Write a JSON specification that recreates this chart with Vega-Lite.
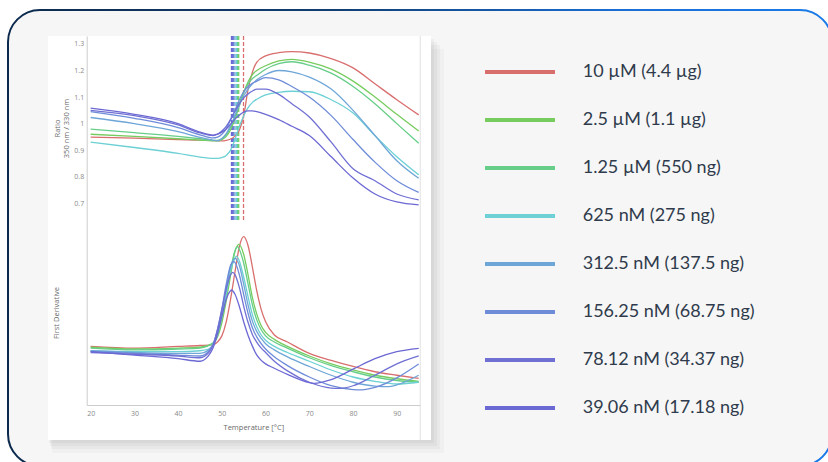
{
  "$schema": "https://vega.github.io/schema/vega-lite/v6.json",
  "width": 824,
  "height": 456,
  "autosize": {"type": "none"},
  "padding": {"left": 8, "top": 10, "right": -4, "bottom": -4},
  "background": "#ffffff",
  "config": {
    "view": {
      "fill": "#f6f6f6",
      "stroke": {"gradient": "linear", "x1": 0, "y1": 0, "x2": 1, "y2": 0, "stops": [{"offset": 0, "color": "#0c2a4d"}, {"offset": 0.4, "color": "#113f74"}, {"offset": 0.75, "color": "#1a6fd6"}, {"offset": 1, "color": "#1a7be8"}]},
      "strokeWidth": 2,
      "cornerRadius": 32
    },
    "axis": {"grid": false, "ticks": false, "zindex": 1, "domainColor": "#cccccc", "labelFont": "Open Sans", "titleFont": "Open Sans", "labelColor": "#8a8a8a", "titleColor": "#6a6a6a", "labelFontSize": 7, "titleFontSize": 7.5, "titleFontWeight": "normal"},
    "legend": {"zindex": 1}
  },
  "datasets": {
    "tm": [
      {"c": "10 µM (4.4 µg)", "tm": 54.95},
      {"c": "2.5 µM (1.1 µg)", "tm": 53.85},
      {"c": "1.25 µM (550 ng)", "tm": 53.6},
      {"c": "625 nM (275 ng)", "tm": 53.35},
      {"c": "312.5 nM (137.5 ng)", "tm": 53.0},
      {"c": "156.25 nM (68.75 ng)", "tm": 52.7},
      {"c": "78.12 nM (34.37 ng)", "tm": 52.45},
      {"c": "39.06 nM (17.18 ng)", "tm": 52.2}
    ],
    "ratio": [
      {"c": "10 µM (4.4 µg)", "t": 20, "r": 0.949}, {"c": "10 µM (4.4 µg)", "t": 30, "r": 0.945}, {"c": "10 µM (4.4 µg)", "t": 40, "r": 0.94}, {"c": "10 µM (4.4 µg)", "t": 45, "r": 0.938}, {"c": "10 µM (4.4 µg)", "t": 48, "r": 0.936}, {"c": "10 µM (4.4 µg)", "t": 50, "r": 0.935}, {"c": "10 µM (4.4 µg)", "t": 51, "r": 0.937}, {"c": "10 µM (4.4 µg)", "t": 52, "r": 0.942}, {"c": "10 µM (4.4 µg)", "t": 53, "r": 0.953}, {"c": "10 µM (4.4 µg)", "t": 54, "r": 0.975}, {"c": "10 µM (4.4 µg)", "t": 55, "r": 1.03}, {"c": "10 µM (4.4 µg)", "t": 56, "r": 1.13}, {"c": "10 µM (4.4 µg)", "t": 57, "r": 1.195}, {"c": "10 µM (4.4 µg)", "t": 58, "r": 1.232}, {"c": "10 µM (4.4 µg)", "t": 60, "r": 1.255}, {"c": "10 µM (4.4 µg)", "t": 63, "r": 1.267}, {"c": "10 µM (4.4 µg)", "t": 66, "r": 1.271}, {"c": "10 µM (4.4 µg)", "t": 70, "r": 1.266}, {"c": "10 µM (4.4 µg)", "t": 75, "r": 1.245}, {"c": "10 µM (4.4 µg)", "t": 80, "r": 1.21}, {"c": "10 µM (4.4 µg)", "t": 85, "r": 1.15}, {"c": "10 µM (4.4 µg)", "t": 90, "r": 1.09}, {"c": "10 µM (4.4 µg)", "t": 95, "r": 1.033},
      {"c": "2.5 µM (1.1 µg)", "t": 20, "r": 0.96}, {"c": "2.5 µM (1.1 µg)", "t": 30, "r": 0.952}, {"c": "2.5 µM (1.1 µg)", "t": 40, "r": 0.943}, {"c": "2.5 µM (1.1 µg)", "t": 45, "r": 0.938}, {"c": "2.5 µM (1.1 µg)", "t": 48, "r": 0.935}, {"c": "2.5 µM (1.1 µg)", "t": 49, "r": 0.935}, {"c": "2.5 µM (1.1 µg)", "t": 50, "r": 0.94}, {"c": "2.5 µM (1.1 µg)", "t": 51, "r": 0.952}, {"c": "2.5 µM (1.1 µg)", "t": 52, "r": 0.977}, {"c": "2.5 µM (1.1 µg)", "t": 53, "r": 1.018}, {"c": "2.5 µM (1.1 µg)", "t": 53.9, "r": 1.062}, {"c": "2.5 µM (1.1 µg)", "t": 55, "r": 1.118}, {"c": "2.5 µM (1.1 µg)", "t": 56, "r": 1.158}, {"c": "2.5 µM (1.1 µg)", "t": 57, "r": 1.185}, {"c": "2.5 µM (1.1 µg)", "t": 58, "r": 1.2}, {"c": "2.5 µM (1.1 µg)", "t": 60, "r": 1.218}, {"c": "2.5 µM (1.1 µg)", "t": 63, "r": 1.236}, {"c": "2.5 µM (1.1 µg)", "t": 66, "r": 1.242}, {"c": "2.5 µM (1.1 µg)", "t": 70, "r": 1.232}, {"c": "2.5 µM (1.1 µg)", "t": 75, "r": 1.205}, {"c": "2.5 µM (1.1 µg)", "t": 80, "r": 1.16}, {"c": "2.5 µM (1.1 µg)", "t": 85, "r": 1.1}, {"c": "2.5 µM (1.1 µg)", "t": 90, "r": 1.035}, {"c": "2.5 µM (1.1 µg)", "t": 95, "r": 0.972},
      {"c": "1.25 µM (550 ng)", "t": 20, "r": 0.979}, {"c": "1.25 µM (550 ng)", "t": 30, "r": 0.966}, {"c": "1.25 µM (550 ng)", "t": 40, "r": 0.952}, {"c": "1.25 µM (550 ng)", "t": 45, "r": 0.943}, {"c": "1.25 µM (550 ng)", "t": 48, "r": 0.937}, {"c": "1.25 µM (550 ng)", "t": 49, "r": 0.937}, {"c": "1.25 µM (550 ng)", "t": 50, "r": 0.943}, {"c": "1.25 µM (550 ng)", "t": 51, "r": 0.958}, {"c": "1.25 µM (550 ng)", "t": 52, "r": 0.986}, {"c": "1.25 µM (550 ng)", "t": 53, "r": 1.028}, {"c": "1.25 µM (550 ng)", "t": 53.6, "r": 1.057}, {"c": "1.25 µM (550 ng)", "t": 54, "r": 1.076}, {"c": "1.25 µM (550 ng)", "t": 55, "r": 1.118}, {"c": "1.25 µM (550 ng)", "t": 56, "r": 1.15}, {"c": "1.25 µM (550 ng)", "t": 57, "r": 1.17}, {"c": "1.25 µM (550 ng)", "t": 58, "r": 1.182}, {"c": "1.25 µM (550 ng)", "t": 60, "r": 1.205}, {"c": "1.25 µM (550 ng)", "t": 63, "r": 1.226}, {"c": "1.25 µM (550 ng)", "t": 66, "r": 1.233}, {"c": "1.25 µM (550 ng)", "t": 70, "r": 1.22}, {"c": "1.25 µM (550 ng)", "t": 75, "r": 1.19}, {"c": "1.25 µM (550 ng)", "t": 80, "r": 1.14}, {"c": "1.25 µM (550 ng)", "t": 85, "r": 1.075}, {"c": "1.25 µM (550 ng)", "t": 90, "r": 1.0}, {"c": "1.25 µM (550 ng)", "t": 95, "r": 0.926},
      {"c": "625 nM (275 ng)", "t": 20, "r": 0.93}, {"c": "625 nM (275 ng)", "t": 30, "r": 0.91}, {"c": "625 nM (275 ng)", "t": 40, "r": 0.888}, {"c": "625 nM (275 ng)", "t": 45, "r": 0.874}, {"c": "625 nM (275 ng)", "t": 48, "r": 0.869}, {"c": "625 nM (275 ng)", "t": 49, "r": 0.869}, {"c": "625 nM (275 ng)", "t": 50, "r": 0.872}, {"c": "625 nM (275 ng)", "t": 51, "r": 0.88}, {"c": "625 nM (275 ng)", "t": 52, "r": 0.9}, {"c": "625 nM (275 ng)", "t": 53, "r": 0.94}, {"c": "625 nM (275 ng)", "t": 54, "r": 0.99}, {"c": "625 nM (275 ng)", "t": 55, "r": 1.03}, {"c": "625 nM (275 ng)", "t": 56, "r": 1.06}, {"c": "625 nM (275 ng)", "t": 57, "r": 1.08}, {"c": "625 nM (275 ng)", "t": 58, "r": 1.092}, {"c": "625 nM (275 ng)", "t": 60, "r": 1.108}, {"c": "625 nM (275 ng)", "t": 63, "r": 1.118}, {"c": "625 nM (275 ng)", "t": 66, "r": 1.122}, {"c": "625 nM (275 ng)", "t": 70, "r": 1.12}, {"c": "625 nM (275 ng)", "t": 75, "r": 1.09}, {"c": "625 nM (275 ng)", "t": 80, "r": 1.04}, {"c": "625 nM (275 ng)", "t": 85, "r": 0.955}, {"c": "625 nM (275 ng)", "t": 90, "r": 0.875}, {"c": "625 nM (275 ng)", "t": 95, "r": 0.807},
      {"c": "312.5 nM (137.5 ng)", "t": 20, "r": 1.023}, {"c": "312.5 nM (137.5 ng)", "t": 30, "r": 1.0}, {"c": "312.5 nM (137.5 ng)", "t": 40, "r": 0.97}, {"c": "312.5 nM (137.5 ng)", "t": 45, "r": 0.948}, {"c": "312.5 nM (137.5 ng)", "t": 48, "r": 0.938}, {"c": "312.5 nM (137.5 ng)", "t": 49, "r": 0.935}, {"c": "312.5 nM (137.5 ng)", "t": 50, "r": 0.944}, {"c": "312.5 nM (137.5 ng)", "t": 51, "r": 0.962}, {"c": "312.5 nM (137.5 ng)", "t": 52, "r": 0.993}, {"c": "312.5 nM (137.5 ng)", "t": 53, "r": 1.03}, {"c": "312.5 nM (137.5 ng)", "t": 54, "r": 1.07}, {"c": "312.5 nM (137.5 ng)", "t": 55, "r": 1.105}, {"c": "312.5 nM (137.5 ng)", "t": 56, "r": 1.13}, {"c": "312.5 nM (137.5 ng)", "t": 57, "r": 1.15}, {"c": "312.5 nM (137.5 ng)", "t": 58, "r": 1.165}, {"c": "312.5 nM (137.5 ng)", "t": 60, "r": 1.185}, {"c": "312.5 nM (137.5 ng)", "t": 63, "r": 1.2}, {"c": "312.5 nM (137.5 ng)", "t": 66, "r": 1.195}, {"c": "312.5 nM (137.5 ng)", "t": 70, "r": 1.175}, {"c": "312.5 nM (137.5 ng)", "t": 75, "r": 1.13}, {"c": "312.5 nM (137.5 ng)", "t": 80, "r": 1.05}, {"c": "312.5 nM (137.5 ng)", "t": 85, "r": 0.955}, {"c": "312.5 nM (137.5 ng)", "t": 90, "r": 0.86}, {"c": "312.5 nM (137.5 ng)", "t": 95, "r": 0.794},
      {"c": "156.25 nM (68.75 ng)", "t": 20, "r": 1.045}, {"c": "156.25 nM (68.75 ng)", "t": 30, "r": 1.02}, {"c": "156.25 nM (68.75 ng)", "t": 40, "r": 0.985}, {"c": "156.25 nM (68.75 ng)", "t": 45, "r": 0.958}, {"c": "156.25 nM (68.75 ng)", "t": 48, "r": 0.946}, {"c": "156.25 nM (68.75 ng)", "t": 49, "r": 0.949}, {"c": "156.25 nM (68.75 ng)", "t": 50, "r": 0.96}, {"c": "156.25 nM (68.75 ng)", "t": 51, "r": 0.98}, {"c": "156.25 nM (68.75 ng)", "t": 52, "r": 1.015}, {"c": "156.25 nM (68.75 ng)", "t": 52.7, "r": 1.038}, {"c": "156.25 nM (68.75 ng)", "t": 53, "r": 1.05}, {"c": "156.25 nM (68.75 ng)", "t": 54, "r": 1.09}, {"c": "156.25 nM (68.75 ng)", "t": 55, "r": 1.12}, {"c": "156.25 nM (68.75 ng)", "t": 56, "r": 1.14}, {"c": "156.25 nM (68.75 ng)", "t": 57, "r": 1.152}, {"c": "156.25 nM (68.75 ng)", "t": 58, "r": 1.16}, {"c": "156.25 nM (68.75 ng)", "t": 60, "r": 1.173}, {"c": "156.25 nM (68.75 ng)", "t": 63, "r": 1.165}, {"c": "156.25 nM (68.75 ng)", "t": 66, "r": 1.14}, {"c": "156.25 nM (68.75 ng)", "t": 70, "r": 1.1}, {"c": "156.25 nM (68.75 ng)", "t": 75, "r": 1.03}, {"c": "156.25 nM (68.75 ng)", "t": 80, "r": 0.94}, {"c": "156.25 nM (68.75 ng)", "t": 85, "r": 0.855}, {"c": "156.25 nM (68.75 ng)", "t": 90, "r": 0.785}, {"c": "156.25 nM (68.75 ng)", "t": 95, "r": 0.741},
      {"c": "78.12 nM (34.37 ng)", "t": 20, "r": 1.05}, {"c": "78.12 nM (34.37 ng)", "t": 30, "r": 1.03}, {"c": "78.12 nM (34.37 ng)", "t": 40, "r": 0.995}, {"c": "78.12 nM (34.37 ng)", "t": 45, "r": 0.965}, {"c": "78.12 nM (34.37 ng)", "t": 48, "r": 0.955}, {"c": "78.12 nM (34.37 ng)", "t": 49, "r": 0.96}, {"c": "78.12 nM (34.37 ng)", "t": 50, "r": 0.972}, {"c": "78.12 nM (34.37 ng)", "t": 51, "r": 0.99}, {"c": "78.12 nM (34.37 ng)", "t": 52, "r": 1.016}, {"c": "78.12 nM (34.37 ng)", "t": 52.45, "r": 1.03}, {"c": "78.12 nM (34.37 ng)", "t": 53, "r": 1.047}, {"c": "78.12 nM (34.37 ng)", "t": 54, "r": 1.075}, {"c": "78.12 nM (34.37 ng)", "t": 55, "r": 1.097}, {"c": "78.12 nM (34.37 ng)", "t": 56, "r": 1.112}, {"c": "78.12 nM (34.37 ng)", "t": 57, "r": 1.123}, {"c": "78.12 nM (34.37 ng)", "t": 58, "r": 1.13}, {"c": "78.12 nM (34.37 ng)", "t": 60, "r": 1.13}, {"c": "78.12 nM (34.37 ng)", "t": 63, "r": 1.11}, {"c": "78.12 nM (34.37 ng)", "t": 66, "r": 1.075}, {"c": "78.12 nM (34.37 ng)", "t": 70, "r": 1.025}, {"c": "78.12 nM (34.37 ng)", "t": 75, "r": 0.93}, {"c": "78.12 nM (34.37 ng)", "t": 80, "r": 0.83}, {"c": "78.12 nM (34.37 ng)", "t": 85, "r": 0.785}, {"c": "78.12 nM (34.37 ng)", "t": 90, "r": 0.735}, {"c": "78.12 nM (34.37 ng)", "t": 95, "r": 0.713},
      {"c": "39.06 nM (17.18 ng)", "t": 20, "r": 1.058}, {"c": "39.06 nM (17.18 ng)", "t": 30, "r": 1.035}, {"c": "39.06 nM (17.18 ng)", "t": 40, "r": 1.0}, {"c": "39.06 nM (17.18 ng)", "t": 45, "r": 0.968}, {"c": "39.06 nM (17.18 ng)", "t": 48, "r": 0.957}, {"c": "39.06 nM (17.18 ng)", "t": 49, "r": 0.96}, {"c": "39.06 nM (17.18 ng)", "t": 50, "r": 0.968}, {"c": "39.06 nM (17.18 ng)", "t": 51, "r": 0.98}, {"c": "39.06 nM (17.18 ng)", "t": 52, "r": 0.998}, {"c": "39.06 nM (17.18 ng)", "t": 53, "r": 1.017}, {"c": "39.06 nM (17.18 ng)", "t": 54, "r": 1.032}, {"c": "39.06 nM (17.18 ng)", "t": 55, "r": 1.043}, {"c": "39.06 nM (17.18 ng)", "t": 56, "r": 1.048}, {"c": "39.06 nM (17.18 ng)", "t": 57, "r": 1.048}, {"c": "39.06 nM (17.18 ng)", "t": 58, "r": 1.045}, {"c": "39.06 nM (17.18 ng)", "t": 60, "r": 1.035}, {"c": "39.06 nM (17.18 ng)", "t": 63, "r": 1.015}, {"c": "39.06 nM (17.18 ng)", "t": 66, "r": 0.99}, {"c": "39.06 nM (17.18 ng)", "t": 70, "r": 0.955}, {"c": "39.06 nM (17.18 ng)", "t": 75, "r": 0.875}, {"c": "39.06 nM (17.18 ng)", "t": 80, "r": 0.795}, {"c": "39.06 nM (17.18 ng)", "t": 85, "r": 0.735}, {"c": "39.06 nM (17.18 ng)", "t": 90, "r": 0.705}, {"c": "39.06 nM (17.18 ng)", "t": 95, "r": 0.694}
    ],
    "deriv": [
      {"c": "10 µM (4.4 µg)", "t": 20, "d": 33.5}, {"c": "10 µM (4.4 µg)", "t": 30, "d": 32.5}, {"c": "10 µM (4.4 µg)", "t": 40, "d": 33.5}, {"c": "10 µM (4.4 µg)", "t": 45, "d": 34}, {"c": "10 µM (4.4 µg)", "t": 48, "d": 34.5}, {"c": "10 µM (4.4 µg)", "t": 49, "d": 36}, {"c": "10 µM (4.4 µg)", "t": 50, "d": 39.5}, {"c": "10 µM (4.4 µg)", "t": 51, "d": 47.5}, {"c": "10 µM (4.4 µg)", "t": 52, "d": 60.5}, {"c": "10 µM (4.4 µg)", "t": 53, "d": 76}, {"c": "10 µM (4.4 µg)", "t": 54, "d": 90.5}, {"c": "10 µM (4.4 µg)", "t": 55, "d": 96.2}, {"c": "10 µM (4.4 µg)", "t": 56, "d": 91}, {"c": "10 µM (4.4 µg)", "t": 57, "d": 78.5}, {"c": "10 µM (4.4 µg)", "t": 58, "d": 65}, {"c": "10 µM (4.4 µg)", "t": 59, "d": 54.5}, {"c": "10 µM (4.4 µg)", "t": 60, "d": 47.5}, {"c": "10 µM (4.4 µg)", "t": 62, "d": 40}, {"c": "10 µM (4.4 µg)", "t": 65, "d": 36}, {"c": "10 µM (4.4 µg)", "t": 70, "d": 29.5}, {"c": "10 µM (4.4 µg)", "t": 75, "d": 25.5}, {"c": "10 µM (4.4 µg)", "t": 80, "d": 22}, {"c": "10 µM (4.4 µg)", "t": 85, "d": 19}, {"c": "10 µM (4.4 µg)", "t": 90, "d": 17}, {"c": "10 µM (4.4 µg)", "t": 95, "d": 15.2},
      {"c": "2.5 µM (1.1 µg)", "t": 20, "d": 33}, {"c": "2.5 µM (1.1 µg)", "t": 30, "d": 32}, {"c": "2.5 µM (1.1 µg)", "t": 40, "d": 32.5}, {"c": "2.5 µM (1.1 µg)", "t": 45, "d": 33}, {"c": "2.5 µM (1.1 µg)", "t": 48, "d": 35.3}, {"c": "2.5 µM (1.1 µg)", "t": 49, "d": 38.9}, {"c": "2.5 µM (1.1 µg)", "t": 50, "d": 47}, {"c": "2.5 µM (1.1 µg)", "t": 51, "d": 59.5}, {"c": "2.5 µM (1.1 µg)", "t": 52, "d": 74.2}, {"c": "2.5 µM (1.1 µg)", "t": 53, "d": 87.7}, {"c": "2.5 µM (1.1 µg)", "t": 53.9, "d": 91.8}, {"c": "2.5 µM (1.1 µg)", "t": 55, "d": 86}, {"c": "2.5 µM (1.1 µg)", "t": 56, "d": 74.2}, {"c": "2.5 µM (1.1 µg)", "t": 57, "d": 61.2}, {"c": "2.5 µM (1.1 µg)", "t": 58, "d": 51.8}, {"c": "2.5 µM (1.1 µg)", "t": 59, "d": 45.3}, {"c": "2.5 µM (1.1 µg)", "t": 60, "d": 41.5}, {"c": "2.5 µM (1.1 µg)", "t": 62, "d": 37.5}, {"c": "2.5 µM (1.1 µg)", "t": 65, "d": 33.5}, {"c": "2.5 µM (1.1 µg)", "t": 70, "d": 28}, {"c": "2.5 µM (1.1 µg)", "t": 75, "d": 23.5}, {"c": "2.5 µM (1.1 µg)", "t": 80, "d": 20}, {"c": "2.5 µM (1.1 µg)", "t": 85, "d": 17}, {"c": "2.5 µM (1.1 µg)", "t": 90, "d": 15}, {"c": "2.5 µM (1.1 µg)", "t": 95, "d": 13.5},
      {"c": "1.25 µM (550 ng)", "t": 20, "d": 32.5}, {"c": "1.25 µM (550 ng)", "t": 30, "d": 31.5}, {"c": "1.25 µM (550 ng)", "t": 40, "d": 32}, {"c": "1.25 µM (550 ng)", "t": 45, "d": 32.5}, {"c": "1.25 µM (550 ng)", "t": 48, "d": 35.5}, {"c": "1.25 µM (550 ng)", "t": 49, "d": 40.2}, {"c": "1.25 µM (550 ng)", "t": 50, "d": 49.5}, {"c": "1.25 µM (550 ng)", "t": 51, "d": 63}, {"c": "1.25 µM (550 ng)", "t": 52, "d": 77}, {"c": "1.25 µM (550 ng)", "t": 53, "d": 88.2}, {"c": "1.25 µM (550 ng)", "t": 53.6, "d": 90.5}, {"c": "1.25 µM (550 ng)", "t": 54, "d": 88.8}, {"c": "1.25 µM (550 ng)", "t": 55, "d": 81}, {"c": "1.25 µM (550 ng)", "t": 56, "d": 69}, {"c": "1.25 µM (550 ng)", "t": 57, "d": 57}, {"c": "1.25 µM (550 ng)", "t": 58, "d": 48.5}, {"c": "1.25 µM (550 ng)", "t": 59, "d": 43}, {"c": "1.25 µM (550 ng)", "t": 60, "d": 39.5}, {"c": "1.25 µM (550 ng)", "t": 62, "d": 36}, {"c": "1.25 µM (550 ng)", "t": 65, "d": 32.5}, {"c": "1.25 µM (550 ng)", "t": 70, "d": 27}, {"c": "1.25 µM (550 ng)", "t": 75, "d": 22.5}, {"c": "1.25 µM (550 ng)", "t": 80, "d": 19}, {"c": "1.25 µM (550 ng)", "t": 85, "d": 16}, {"c": "1.25 µM (550 ng)", "t": 90, "d": 14}, {"c": "1.25 µM (550 ng)", "t": 95, "d": 13},
      {"c": "625 nM (275 ng)", "t": 20, "d": 31}, {"c": "625 nM (275 ng)", "t": 30, "d": 30.5}, {"c": "625 nM (275 ng)", "t": 40, "d": 30.5}, {"c": "625 nM (275 ng)", "t": 45, "d": 31}, {"c": "625 nM (275 ng)", "t": 47, "d": 32}, {"c": "625 nM (275 ng)", "t": 48, "d": 34.5}, {"c": "625 nM (275 ng)", "t": 49, "d": 40.7}, {"c": "625 nM (275 ng)", "t": 50, "d": 51}, {"c": "625 nM (275 ng)", "t": 51, "d": 63.4}, {"c": "625 nM (275 ng)", "t": 52, "d": 76.9}, {"c": "625 nM (275 ng)", "t": 53, "d": 83.9}, {"c": "625 nM (275 ng)", "t": 53.3, "d": 85.1}, {"c": "625 nM (275 ng)", "t": 54, "d": 82.3}, {"c": "625 nM (275 ng)", "t": 55, "d": 73}, {"c": "625 nM (275 ng)", "t": 56, "d": 61.8}, {"c": "625 nM (275 ng)", "t": 57, "d": 51.5}, {"c": "625 nM (275 ng)", "t": 58, "d": 44.5}, {"c": "625 nM (275 ng)", "t": 59, "d": 40}, {"c": "625 nM (275 ng)", "t": 60, "d": 37}, {"c": "625 nM (275 ng)", "t": 62, "d": 33.5}, {"c": "625 nM (275 ng)", "t": 65, "d": 30}, {"c": "625 nM (275 ng)", "t": 70, "d": 25}, {"c": "625 nM (275 ng)", "t": 75, "d": 20}, {"c": "625 nM (275 ng)", "t": 80, "d": 16}, {"c": "625 nM (275 ng)", "t": 85, "d": 13.5}, {"c": "625 nM (275 ng)", "t": 90, "d": 12}, {"c": "625 nM (275 ng)", "t": 95, "d": 13},
      {"c": "312.5 nM (137.5 ng)", "t": 20, "d": 31}, {"c": "312.5 nM (137.5 ng)", "t": 30, "d": 30}, {"c": "312.5 nM (137.5 ng)", "t": 40, "d": 29.5}, {"c": "312.5 nM (137.5 ng)", "t": 45, "d": 29.5}, {"c": "312.5 nM (137.5 ng)", "t": 47, "d": 31.5}, {"c": "312.5 nM (137.5 ng)", "t": 48, "d": 34.9}, {"c": "312.5 nM (137.5 ng)", "t": 49, "d": 41.9}, {"c": "312.5 nM (137.5 ng)", "t": 50, "d": 53.2}, {"c": "312.5 nM (137.5 ng)", "t": 51, "d": 66.7}, {"c": "312.5 nM (137.5 ng)", "t": 52, "d": 79.1}, {"c": "312.5 nM (137.5 ng)", "t": 53, "d": 83.8}, {"c": "312.5 nM (137.5 ng)", "t": 54, "d": 79.7}, {"c": "312.5 nM (137.5 ng)", "t": 55, "d": 68.9}, {"c": "312.5 nM (137.5 ng)", "t": 56, "d": 57}, {"c": "312.5 nM (137.5 ng)", "t": 57, "d": 47.8}, {"c": "312.5 nM (137.5 ng)", "t": 58, "d": 41.9}, {"c": "312.5 nM (137.5 ng)", "t": 59, "d": 38}, {"c": "312.5 nM (137.5 ng)", "t": 60, "d": 35}, {"c": "312.5 nM (137.5 ng)", "t": 62, "d": 31.5}, {"c": "312.5 nM (137.5 ng)", "t": 65, "d": 27.5}, {"c": "312.5 nM (137.5 ng)", "t": 70, "d": 22}, {"c": "312.5 nM (137.5 ng)", "t": 75, "d": 17}, {"c": "312.5 nM (137.5 ng)", "t": 80, "d": 13}, {"c": "312.5 nM (137.5 ng)", "t": 85, "d": 10.8}, {"c": "312.5 nM (137.5 ng)", "t": 88, "d": 10.5}, {"c": "312.5 nM (137.5 ng)", "t": 90, "d": 11.5}, {"c": "312.5 nM (137.5 ng)", "t": 95, "d": 17},
      {"c": "156.25 nM (68.75 ng)", "t": 20, "d": 30.5}, {"c": "156.25 nM (68.75 ng)", "t": 30, "d": 29.5}, {"c": "156.25 nM (68.75 ng)", "t": 40, "d": 28.5}, {"c": "156.25 nM (68.75 ng)", "t": 45, "d": 28}, {"c": "156.25 nM (68.75 ng)", "t": 47, "d": 30.7}, {"c": "156.25 nM (68.75 ng)", "t": 48, "d": 34.5}, {"c": "156.25 nM (68.75 ng)", "t": 49, "d": 43.1}, {"c": "156.25 nM (68.75 ng)", "t": 50, "d": 55}, {"c": "156.25 nM (68.75 ng)", "t": 51, "d": 69}, {"c": "156.25 nM (68.75 ng)", "t": 52, "d": 79.8}, {"c": "156.25 nM (68.75 ng)", "t": 52.7, "d": 81.9}, {"c": "156.25 nM (68.75 ng)", "t": 53, "d": 81.5}, {"c": "156.25 nM (68.75 ng)", "t": 54, "d": 74.4}, {"c": "156.25 nM (68.75 ng)", "t": 55, "d": 63}, {"c": "156.25 nM (68.75 ng)", "t": 56, "d": 52.3}, {"c": "156.25 nM (68.75 ng)", "t": 57, "d": 44}, {"c": "156.25 nM (68.75 ng)", "t": 58, "d": 38.8}, {"c": "156.25 nM (68.75 ng)", "t": 59, "d": 35}, {"c": "156.25 nM (68.75 ng)", "t": 60, "d": 32}, {"c": "156.25 nM (68.75 ng)", "t": 62, "d": 27.5}, {"c": "156.25 nM (68.75 ng)", "t": 65, "d": 22.5}, {"c": "156.25 nM (68.75 ng)", "t": 70, "d": 16}, {"c": "156.25 nM (68.75 ng)", "t": 75, "d": 11}, {"c": "156.25 nM (68.75 ng)", "t": 80, "d": 8.8}, {"c": "156.25 nM (68.75 ng)", "t": 82, "d": 8.6}, {"c": "156.25 nM (68.75 ng)", "t": 85, "d": 10}, {"c": "156.25 nM (68.75 ng)", "t": 90, "d": 15.5}, {"c": "156.25 nM (68.75 ng)", "t": 95, "d": 23.4},
      {"c": "78.12 nM (34.37 ng)", "t": 20, "d": 30}, {"c": "78.12 nM (34.37 ng)", "t": 30, "d": 29}, {"c": "78.12 nM (34.37 ng)", "t": 40, "d": 28}, {"c": "78.12 nM (34.37 ng)", "t": 45, "d": 27}, {"c": "78.12 nM (34.37 ng)", "t": 47, "d": 29.9}, {"c": "78.12 nM (34.37 ng)", "t": 48, "d": 34.4}, {"c": "78.12 nM (34.37 ng)", "t": 49, "d": 43.2}, {"c": "78.12 nM (34.37 ng)", "t": 50, "d": 54.4}, {"c": "78.12 nM (34.37 ng)", "t": 51, "d": 66.2}, {"c": "78.12 nM (34.37 ng)", "t": 52, "d": 74.5}, {"c": "78.12 nM (34.37 ng)", "t": 52.45, "d": 75.8}, {"c": "78.12 nM (34.37 ng)", "t": 53, "d": 74.5}, {"c": "78.12 nM (34.37 ng)", "t": 54, "d": 67.2}, {"c": "78.12 nM (34.37 ng)", "t": 55, "d": 56.4}, {"c": "78.12 nM (34.37 ng)", "t": 56, "d": 47.1}, {"c": "78.12 nM (34.37 ng)", "t": 57, "d": 40.2}, {"c": "78.12 nM (34.37 ng)", "t": 58, "d": 35.8}, {"c": "78.12 nM (34.37 ng)", "t": 59, "d": 32.5}, {"c": "78.12 nM (34.37 ng)", "t": 60, "d": 30}, {"c": "78.12 nM (34.37 ng)", "t": 62, "d": 25}, {"c": "78.12 nM (34.37 ng)", "t": 65, "d": 19.5}, {"c": "78.12 nM (34.37 ng)", "t": 70, "d": 13}, {"c": "78.12 nM (34.37 ng)", "t": 75, "d": 9.7}, {"c": "78.12 nM (34.37 ng)", "t": 77, "d": 9.5}, {"c": "78.12 nM (34.37 ng)", "t": 80, "d": 11}, {"c": "78.12 nM (34.37 ng)", "t": 85, "d": 17}, {"c": "78.12 nM (34.37 ng)", "t": 90, "d": 23.5}, {"c": "78.12 nM (34.37 ng)", "t": 95, "d": 28},
      {"c": "39.06 nM (17.18 ng)", "t": 20, "d": 30.5}, {"c": "39.06 nM (17.18 ng)", "t": 30, "d": 28.5}, {"c": "39.06 nM (17.18 ng)", "t": 40, "d": 26.5}, {"c": "39.06 nM (17.18 ng)", "t": 45, "d": 25}, {"c": "39.06 nM (17.18 ng)", "t": 47, "d": 28.3}, {"c": "39.06 nM (17.18 ng)", "t": 48, "d": 32.7}, {"c": "39.06 nM (17.18 ng)", "t": 49, "d": 40.5}, {"c": "39.06 nM (17.18 ng)", "t": 50, "d": 50.6}, {"c": "39.06 nM (17.18 ng)", "t": 51, "d": 60.4}, {"c": "39.06 nM (17.18 ng)", "t": 52, "d": 65.3}, {"c": "39.06 nM (17.18 ng)", "t": 52.2, "d": 65.7}, {"c": "39.06 nM (17.18 ng)", "t": 53, "d": 63.3}, {"c": "39.06 nM (17.18 ng)", "t": 54, "d": 56.3}, {"c": "39.06 nM (17.18 ng)", "t": 55, "d": 47.4}, {"c": "39.06 nM (17.18 ng)", "t": 56, "d": 39.7}, {"c": "39.06 nM (17.18 ng)", "t": 57, "d": 33.5}, {"c": "39.06 nM (17.18 ng)", "t": 58, "d": 28.5}, {"c": "39.06 nM (17.18 ng)", "t": 59, "d": 25.5}, {"c": "39.06 nM (17.18 ng)", "t": 60, "d": 23.5}, {"c": "39.06 nM (17.18 ng)", "t": 62, "d": 21}, {"c": "39.06 nM (17.18 ng)", "t": 65, "d": 17.5}, {"c": "39.06 nM (17.18 ng)", "t": 70, "d": 12.8}, {"c": "39.06 nM (17.18 ng)", "t": 71, "d": 12.4}, {"c": "39.06 nM (17.18 ng)", "t": 75, "d": 14.5}, {"c": "39.06 nM (17.18 ng)", "t": 80, "d": 20.5}, {"c": "39.06 nM (17.18 ng)", "t": 85, "d": 26.5}, {"c": "39.06 nM (17.18 ng)", "t": 90, "d": 30.5}, {"c": "39.06 nM (17.18 ng)", "t": 95, "d": 32.4}
    ]
  },
  "resolve": {"scale": {"x": "independent", "y": "independent"}},
  "layer": [
    {
      "data": {"values": [{}]},
      "mark": {"type": "rect", "fill": "#000000", "opacity": 0.025},
      "encoding": {
        "x": {"datum": 11.17, "type": "quantitative", "scale": {"domain": [19.1, 95.3], "range": [78.7, 412], "nice": false, "zero": false}, "axis": null},
        "x2": {"datum": 100.79},
        "y": {"datum": 203.43, "type": "quantitative", "scale": {"domain": [0, 105.7], "range": [395, 210], "nice": false, "zero": false}, "axis": null},
        "y2": {"datum": -27.43}
      }
    },
    {
      "data": {"values": [{}]},
      "mark": {"type": "rect", "fill": "#000000", "opacity": 0.03},
      "encoding": {
        "x": {"datum": 10.94, "type": "quantitative", "scale": {"domain": [19.1, 95.3], "range": [78.7, 412], "nice": false, "zero": false}, "axis": null},
        "x2": {"datum": 99.87},
        "y": {"datum": 205.71, "type": "quantitative", "scale": {"domain": [0, 105.7], "range": [395, 210], "nice": false, "zero": false}, "axis": null},
        "y2": {"datum": -25.14}
      }
    },
    {
      "data": {"values": [{}]},
      "mark": {"type": "rect", "fill": "#000000", "opacity": 0.03},
      "encoding": {
        "x": {"datum": 10.71, "type": "quantitative", "scale": {"domain": [19.1, 95.3], "range": [78.7, 412], "nice": false, "zero": false}, "axis": null},
        "x2": {"datum": 99.19},
        "y": {"datum": 207.43, "type": "quantitative", "scale": {"domain": [0, 105.7], "range": [395, 210], "nice": false, "zero": false}, "axis": null},
        "y2": {"datum": -23.43}
      }
    },
    {
      "data": {"values": [{}]},
      "mark": {"type": "rect", "fill": "#000000", "opacity": 0.035},
      "encoding": {
        "x": {"datum": 10.48, "type": "quantitative", "scale": {"domain": [19.1, 95.3], "range": [78.7, 412], "nice": false, "zero": false}, "axis": null},
        "x2": {"datum": 98.5},
        "y": {"datum": 209.14, "type": "quantitative", "scale": {"domain": [0, 105.7], "range": [395, 210], "nice": false, "zero": false}, "axis": null},
        "y2": {"datum": -21.71}
      }
    },
    {
      "data": {"values": [{}]},
      "mark": {"type": "rect", "fill": "#ffffff"},
      "encoding": {
        "x": {"datum": 10.25, "type": "quantitative", "scale": {"domain": [19.1, 95.3], "range": [78.7, 412], "nice": false, "zero": false}, "axis": null},
        "x2": {"datum": 97.81},
        "y": {"datum": 210.86, "type": "quantitative", "scale": {"domain": [0, 105.7], "range": [395, 210], "nice": false, "zero": false}, "axis": null},
        "y2": {"datum": -20}
      }
    },
    {
      "data": {"values": [{}]},
      "mark": {"type": "rule", "color": "#e0e0e0", "strokeWidth": 1},
      "encoding": {
        "x": {"datum": 95.35, "type": "quantitative", "scale": {"domain": [19.1, 95.3], "range": [78.7, 412], "nice": false, "zero": false}, "axis": null},
        "y": {"datum": 210.86, "type": "quantitative", "scale": {"domain": [0, 105.7], "range": [395, 210], "nice": false, "zero": false}, "axis": null},
        "y2": {"datum": -20}
      }
    },
    {
      "data": {"name": "tm"},
      "mark": {"type": "rule", "strokeDash": [4, 2], "strokeWidth": 1.3},
      "encoding": {
        "x": {"field": "tm", "type": "quantitative", "scale": {"domain": [19.1, 95.3], "range": [78.7, 412], "nice": false, "zero": false}, "axis": null},
        "y": {"datum": 1.33, "type": "quantitative", "scale": {"domain": [0.637, 1.33], "range": [210, 26], "nice": false, "zero": false}, "axis": null},
        "y2": {"datum": 0.637},
        "color": {"field": "c", "type": "nominal",
          "scale": {"domain": ["10 µM (4.4 µg)", "2.5 µM (1.1 µg)", "1.25 µM (550 ng)", "625 nM (275 ng)", "312.5 nM (137.5 ng)", "156.25 nM (68.75 ng)", "78.12 nM (34.37 ng)", "39.06 nM (17.18 ng)"],
                    "range": ["#d96e6e", "#77cc5f", "#66ce88", "#6cd0d4", "#6ea6d8", "#6e8cd8", "#7070d4", "#6c68d4"]}}
      }
    },
    {
      "data": {"name": "ratio"},
      "mark": {"type": "line", "interpolate": "monotone", "strokeWidth": 1.3},
      "encoding": {
        "x": {"field": "t", "type": "quantitative", "scale": {"domain": [19.1, 95.3], "range": [78.7, 412], "nice": false, "zero": false}, "axis": null},
        "y": {"field": "r", "type": "quantitative", "scale": {"domain": [0.637, 1.33], "range": [210, 26], "nice": false, "zero": false},
          "axis": {"orient": "left", "offset": -78.7, "values": [0.7, 0.8, 0.9, 1, 1.1, 1.2, 1.3], "format": "~g", "labelPadding": 3, "title": ["Ratio", "350 nm / 330 nm"], "titleX": -25, "titleLineHeight": 8.5, "titleAngle": -90, "titleBaseline": "bottom", "titleAlign": "center", "titleColor": "#6a6a6a", "zindex": 1}},
        "color": {"field": "c", "type": "nominal",
          "scale": {"domain": ["10 µM (4.4 µg)", "2.5 µM (1.1 µg)", "1.25 µM (550 ng)", "625 nM (275 ng)", "312.5 nM (137.5 ng)", "156.25 nM (68.75 ng)", "78.12 nM (34.37 ng)", "39.06 nM (17.18 ng)"],
                    "range": ["#d96e6e", "#77cc5f", "#66ce88", "#6cd0d4", "#6ea6d8", "#6e8cd8", "#7070d4", "#6c68d4"]},
          "legend": {"orient": "none", "legendX": 475, "legendY": 38, "title": null, "symbolType": "stroke", "symbolSize": 4900, "symbolStrokeWidth": 4, "clipHeight": 47.9, "rowPadding": 0, "labelOffset": 25.7, "labelFont": "Lato", "labelFontSize": 18, "labelColor": "#2f3b4c", "labelLimit": 300, "padding": 0, "zindex": 1}}
      }
    },
    {
      "data": {"name": "deriv"},
      "mark": {"type": "line", "interpolate": "monotone", "strokeWidth": 1.3},
      "encoding": {
        "x": {"field": "t", "type": "quantitative", "scale": {"domain": [19.1, 95.3], "range": [78.7, 412], "nice": false, "zero": false},
          "axis": {"orient": "bottom", "offset": -61, "values": [20, 30, 40, 50, 60, 70, 80, 90], "labelPadding": 4, "title": "Temperature [°C]", "titlePadding": 7, "titleColor": "#6a6a6a", "zindex": 1}},
        "y": {"field": "d", "type": "quantitative", "scale": {"domain": [0, 105.7], "range": [395, 210], "nice": false, "zero": false},
          "axis": {"orient": "left", "offset": -78.7, "labels": false, "title": "First Derivative", "titleX": -26, "titleAngle": -90, "titleBaseline": "bottom", "titleAlign": "center", "titleColor": "#6a6a6a", "zindex": 1}},
        "color": {"field": "c", "type": "nominal",
          "scale": {"domain": ["10 µM (4.4 µg)", "2.5 µM (1.1 µg)", "1.25 µM (550 ng)", "625 nM (275 ng)", "312.5 nM (137.5 ng)", "156.25 nM (68.75 ng)", "78.12 nM (34.37 ng)", "39.06 nM (17.18 ng)"],
                    "range": ["#d96e6e", "#77cc5f", "#66ce88", "#6cd0d4", "#6ea6d8", "#6e8cd8", "#7070d4", "#6c68d4"]}}
      }
    }
  ]
}
